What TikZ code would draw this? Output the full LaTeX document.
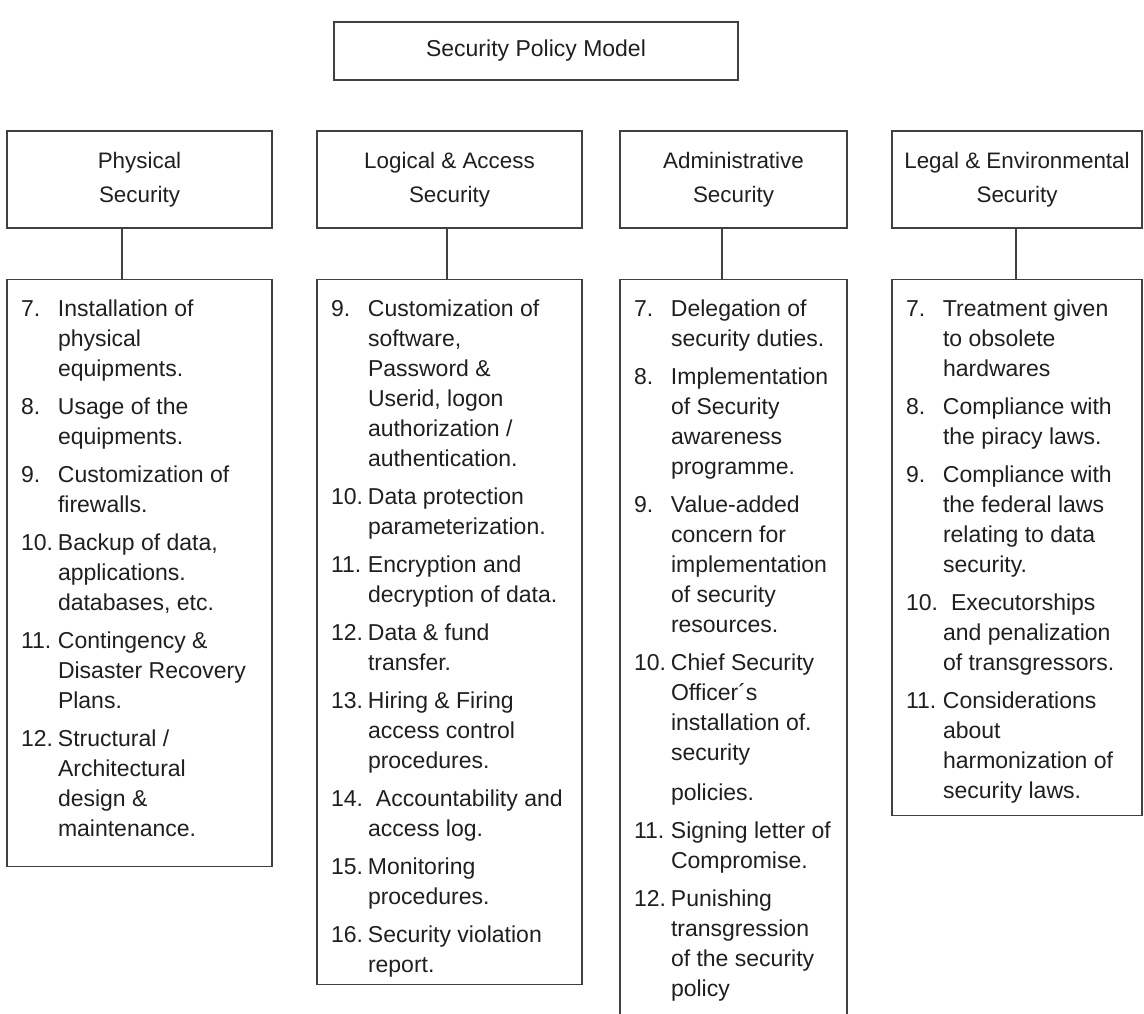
\documentclass[tikz,border=0pt]{standalone}
\usepackage{fontspec}
\setmainfont{Liberation Sans}
\usetikzlibrary{positioning}

\tikzset{
    box/.style={draw=black!75, line width=0.7pt, inner sep=0pt, text=black!88},
    headbox/.style={box, minimum width=#1, minimum height=48.5pt, align=center,
        font=\fontsize{11.2}{17}\selectfont},
    listbox/.style={box, anchor=north, inner xsep=7pt, inner ysep=10pt},
    link/.style={draw=black!75, line width=0.7pt}
}

% one numbered entry with hanging text
\newcommand{\listno}[1]{\par\hangindent=18.5pt\hangafter=1\noindent\makebox[18.5pt][l]{#1}}
% width, height, entries
\newcommand{\itemlist}[3]{\parbox[t][#2][t]{#1}{\fontsize{11.5}{15}\selectfont\setlength{\parskip}{4pt}#3}}

\begin{document}
\begin{tikzpicture}[x=0.5pt, y=-0.5pt]
            \useasboundingbox (0, 0) rectangle (1144, 1013);
            \clip (0, 0) rectangle (1144, 1013);

            \node [box, minimum width=202pt, minimum height=29pt, font=\fontsize{11.5}{15}\selectfont]
                (model) at (536, 51) {Security Policy Model};

            % the four areas
            \node [headbox=132.5pt] (physical) at (139.5, 179.5) {Physical\\Security};
            \node [headbox=132.5pt] (logical) at (449.5, 179.5) {Logical \& Access\\Security};
            \node [headbox=113.5pt] (administrative) at (733.5, 179.5) {Administrative\\Security};
            \node [headbox=125pt] (legal) at (1017, 179.5) {Legal \& Environmental\\Security};

            % lists of measures
            \node [listbox] (physical list) at (139.5, 279) {\itemlist{118.5pt}{273.5pt}{%
                \listno{7.}Installation of\\physical\\equipments.
                \listno{8.}Usage of the\\equipments.
                \listno{9.}Customization of\\firewalls.
                \listno{10.}Backup of data,\\applications.\\databases, etc.
                \listno{11.}Contingency \&\\Disaster Recovery\\Plans.
                \listno{12.}Structural /\\Architectural\\design \&\\maintenance.}};

            \node [listbox] (logical list) at (449.5, 279) {\itemlist{118.5pt}{332.5pt}{%
                \listno{9.}Customization of\\software,\\Password \&\\Userid, logon\\authorization /\\authentication.
                \listno{10.}Data protection\\parameterization.
                \listno{11.}Encryption and\\decryption of data.
                \listno{12.}Data \& fund\\transfer.
                \listno{13.}Hiring \& Firing\\access control\\procedures.
                \listno{14.}\hspace{4pt}Accountability and\\access log.
                \listno{15.}Monitoring\\procedures.
                \listno{16.}Security violation\\report.}};

            \node [listbox] (administrative list) at (733.5, 279) {\itemlist{99.5pt}{350.5pt}{%
                \listno{7.}Delegation of\\security duties.
                \listno{8.}Implementation\\of Security\\awareness\\programme.
                \listno{9.}Value-added\\concern for\\implementation\\of security\\resources.
                \listno{10.}Chief Security\\Officer´s\\installation of.\\security\\[5pt]policies.
                \listno{11.}Signing letter of\\Compromise.
                \listno{12.}Punishing\\transgression\\of the security\\policy}};

            \node [listbox] (legal list) at (1017, 279) {\itemlist{111pt}{248pt}{%
                \listno{7.}Treatment given\\to obsolete\\hardwares
                \listno{8.}Compliance with\\the piracy laws.
                \listno{9.}Compliance with\\the federal laws\\relating to data\\security.
                \listno{10.}\hspace{4pt}Executorships\\and penalization\\of transgressors.
                \listno{11.}Considerations\\about\\harmonization of\\security laws.}};

            \draw [link] ([xshift=-8.75pt]physical.south) -- ([xshift=-8.75pt]physical list.north);
            \draw [link] ([xshift=-1.25pt]logical.south) -- ([xshift=-1.25pt]logical list.north);
            \draw [link] ([xshift=-5.75pt]administrative.south) -- ([xshift=-5.75pt]administrative list.north);
            \draw [link] ([xshift=-0.5pt]legal.south) -- ([xshift=-0.5pt]legal list.north);
    \end{tikzpicture}
\end{document}
